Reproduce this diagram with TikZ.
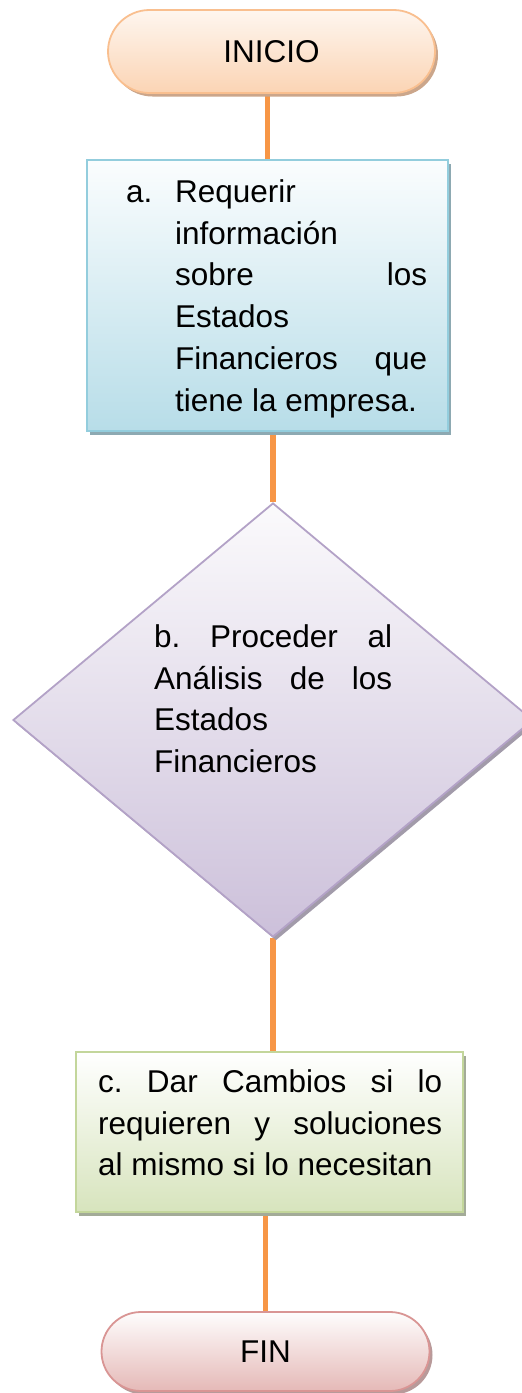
\documentclass[tikz,border=0pt]{standalone}
\usepackage{fontspec}
\setmainfont{Liberation Sans}
\usetikzlibrary{shapes.geometric,shapes.misc,shadows,backgrounds}

\definecolor{linkorange}{HTML}{F79646}
\definecolor{startline}{HTML}{F9BF8F}
\definecolor{starttop}{HTML}{FEF6EF}
\definecolor{startbot}{HTML}{FBD4B4}
\definecolor{startshadow}{HTML}{CBA68B}
\definecolor{reqline}{HTML}{93CDDD}
\definecolor{reqtop}{HTML}{FBFDFE}
\definecolor{reqbot}{HTML}{B7DDE8}
\definecolor{reqshadow}{HTML}{8DA9B2}
\definecolor{anline}{HTML}{B3A2C7}
\definecolor{antop}{HTML}{FBFAFC}
\definecolor{anbot}{HTML}{CCC0DA}
\definecolor{anshadow}{HTML}{A29BAA}
\definecolor{camline}{HTML}{C3D69B}
\definecolor{camtop}{HTML}{FFFFFF}
\definecolor{cambot}{HTML}{D7E4BD}
\definecolor{camshadow}{HTML}{A3AB98}
\definecolor{endline}{HTML}{D99594}
\definecolor{endtop}{HTML}{FEFDFD}
\definecolor{endbot}{HTML}{E5B9B7}
\definecolor{endshadow}{HTML}{B89A9A}

\newcommand{\flowfont}{\fontsize{31.5}{41.8}\selectfont\frenchspacing}

\begin{document}
\begin{tikzpicture}[x=1pt,y=-1pt,
  castshadow/.style={drop shadow={shadow xshift=3pt,shadow yshift=-3.5pt,fill=#1,opacity=1}},
  terminal/.style={rounded rectangle, draw, line width=1.8pt, inner sep=0pt, font=\flowfont},
  procbox/.style={rectangle, draw, line width=1.8pt, inner sep=0pt},
  decision/.style={diamond, draw, line width=1.8pt, inner sep=0pt},
  flowtext/.style={anchor=north west, inner sep=0pt, align=justify, font=\flowfont},
  link/.style={draw=linkorange, line width=5.5pt}]
  \useasboundingbox (0,0) rectangle (522,1393);

  % Start
  \node[terminal, draw=startline, top color=starttop, bottom color=startbot, castshadow=startshadow,
        minimum width=327pt, minimum height=83pt] (inicio) at (271.5,51.5) {INICIO};

  % Step a
  \node[procbox, draw=reqline, top color=reqtop, bottom color=reqbot, castshadow=reqshadow,
        minimum width=361pt, minimum height=271pt] (requerir) at (267.5,295.5) {};
  \node[flowtext, text width=252pt] (requerirtext) at (175,172)
    {\rule{0pt}{30pt}\llap{\makebox[49pt][l]{a.}}Requerir\linebreak
     información\linebreak sobre los\linebreak Estados\linebreak Financieros que\linebreak
     tiene la empresa.};

  % Step b
  \node[decision, draw=anline, top color=antop, bottom color=anbot, castshadow=anshadow,
        minimum width=520pt, minimum height=434pt] (analisis) at (273,720) {};
  \node[flowtext, text width=238pt] (analisistext) at (154,617)
    {\rule{0pt}{30pt}b. Proceder al\linebreak Análisis de los\linebreak Estados\linebreak Financieros};

  % Step c
  \node[procbox, draw=camline, top color=camtop, bottom color=cambot, castshadow=camshadow,
        minimum width=387pt, minimum height=160pt] (cambios) at (269.5,1132) {};
  \node[flowtext, text width=344pt] (cambiostext) at (98,1062)
    {\rule{0pt}{30pt}c. Dar Cambios si lo\linebreak requieren y soluciones\linebreak al mismo si lo necesitan};

  % End
  \node[terminal, draw=endline, top color=endtop, bottom color=endbot, castshadow=endshadow,
        minimum width=328pt, minimum height=79pt] (fin) at (265.5,1351.5) {FIN};

  % Connectors
  \begin{pgfonlayer}{background}
    \draw[link] (requerir.north |- inicio.south) -- (requerir.north);
    \draw[link] (analisis.north |- requerir.south) -- (analisis.north);
    \draw[link] (analisis.south) -- (analisis.south |- cambios.north);
    \draw[link] (fin.north |- cambios.south) -- (fin.north);
  \end{pgfonlayer}
\end{tikzpicture}
\end{document}
